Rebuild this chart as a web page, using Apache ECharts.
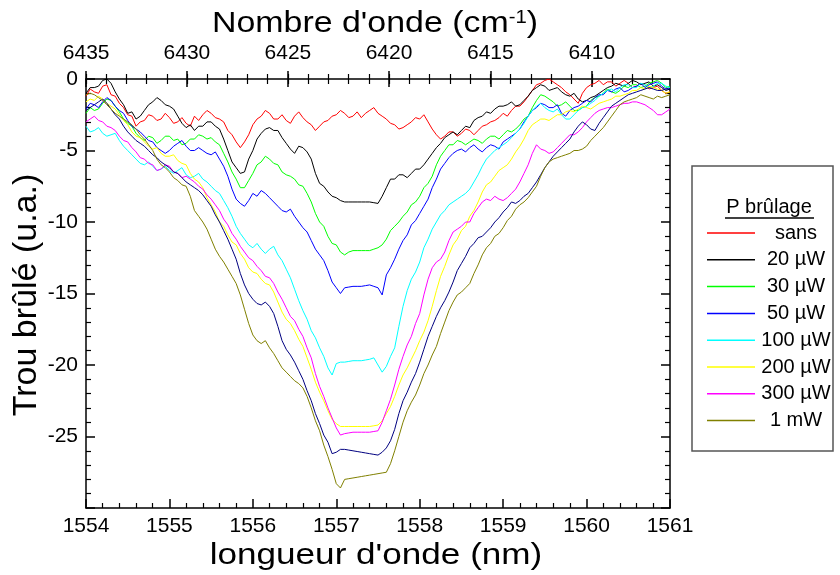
<!DOCTYPE html>
<html>
<head>
<meta charset="utf-8">
<script src="https://cdn.jsdelivr.net/npm/echarts@6/dist/echarts.min.js"></script>
<style>
html, body { margin: 0; padding: 0; background: #fff; }
#main { width: 840px; height: 575px; }
</style>
</head>
<body>
<div id="main"></div>
<script>
// longueur d'onde (nm), pas de 0.05 nm
var wavelength = [
  1554.00,1554.05,1554.10,1554.15,1554.20,1554.25,1554.30,1554.35,1554.40,1554.45,1554.50,1554.55,1554.60,1554.65,1554.70,1554.75,1554.80,1554.85,1554.90,1554.95,
  1555.00,1555.05,1555.10,1555.15,1555.20,1555.25,1555.30,1555.35,1555.40,1555.45,1555.50,1555.55,1555.60,1555.65,1555.70,1555.75,1555.80,1555.85,1555.90,1555.95,
  1556.00,1556.05,1556.10,1556.15,1556.20,1556.25,1556.30,1556.35,1556.40,1556.45,1556.50,1556.55,1556.60,1556.65,1556.70,1556.75,1556.80,1556.85,1556.90,1556.95,
  1557.00,1557.05,1557.10,1557.15,1557.20,1557.25,1557.30,1557.35,1557.40,1557.45,1557.50,1557.55,1557.60,1557.65,1557.70,1557.75,1557.80,1557.85,1557.90,1557.95,
  1558.00,1558.05,1558.10,1558.15,1558.20,1558.25,1558.30,1558.35,1558.40,1558.45,1558.50,1558.55,1558.60,1558.65,1558.70,1558.75,1558.80,1558.85,1558.90,1558.95,
  1559.00,1559.05,1559.10,1559.15,1559.20,1559.25,1559.30,1559.35,1559.40,1559.45,1559.50,1559.55,1559.60,1559.65,1559.70,1559.75,1559.80,1559.85,1559.90,1559.95,
  1560.00,1560.05,1560.10,1560.15,1560.20,1560.25,1560.30,1560.35,1560.40,1560.45,1560.50,1560.55,1560.60,1560.65,1560.70,1560.75,1560.80,1560.85,1560.90,1560.95,
  1561.00];

var sans = [
  -1.2,-0.7,-0.9,-1.0,-0.5,-0.4,-1.1,-1.2,-1.7,-2.0,-2.5,-2.6,-3.3,-3.0,-2.9,-2.5,-2.6,-2.9,-2.8,-2.4,
  -2.7,-3.1,-3.0,-2.7,-3.1,-3.3,-2.6,-2.9,-2.5,-2.2,-2.4,-2.7,-2.8,-3.0,-3.6,-3.9,-4.4,-4.8,-4.4,-3.9,
  -3.2,-2.8,-2.6,-2.2,-2.4,-2.8,-2.8,-2.5,-2.9,-3.1,-2.6,-2.3,-2.7,-3.0,-3.2,-3.6,-3.3,-3.0,-2.9,-2.6,
  -2.5,-2.2,-2.4,-2.7,-2.6,-2.3,-2.7,-2.4,-2.2,-2.0,-2.4,-2.6,-2.8,-3.1,-3.2,-3.5,-3.4,-3.2,-3.0,-2.7,
  -2.8,-2.5,-3.0,-3.5,-3.9,-4.2,-4.0,-3.7,-3.7,-4.0,-3.8,-3.5,-3.6,-3.9,-3.6,-3.3,-3.2,-3.0,-2.9,-2.7,
  -2.4,-2.6,-2.2,-1.9,-1.9,-1.6,-1.2,-0.8,-0.4,-0.3,-0.1,0.0,-0.2,-0.4,-0.6,-0.9,-1.1,-1.4,-1.7,-1.0,
  -0.6,-0.4,-0.3,-0.1,-0.4,-0.2,-0.2,-0.5,-0.3,-0.1,-0.3,-0.6,-0.5,-0.3,-0.4,-0.7,-0.6,-0.5,-0.8,-1.0,
  -0.9];
var p20uW = [
  -1.0,-0.6,-0.6,-0.5,-0.1,0.0,-0.3,-0.9,-1.4,-1.8,-2.4,-2.3,-2.8,-2.6,-2.2,-1.8,-1.6,-1.3,-1.5,-1.8,
  -1.9,-2.1,-2.6,-3.1,-3.4,-3.2,-3.6,-3.3,-3.3,-3.0,-3.0,-3.3,-3.5,-4.2,-5.0,-5.8,-6.2,-6.6,-6.5,-5.6,
  -5.0,-4.2,-3.8,-3.5,-3.4,-3.6,-3.6,-4.1,-4.5,-4.9,-5.2,-4.7,-4.8,-5.1,-5.6,-6.6,-7.3,-7.5,-7.9,-8.2,
  -8.3,-8.5,-8.6,-8.6,-8.6,-8.6,-8.6,-8.6,-8.6,-8.65,-8.7,-8.2,-7.6,-7.0,-7.0,-6.7,-6.7,-6.9,-6.6,-6.3,
  -6.3,-6.0,-5.6,-5.2,-4.8,-4.5,-4.1,-3.9,-3.7,-3.9,-3.6,-3.3,-3.4,-2.9,-2.7,-2.6,-2.3,-2.4,-2.1,-1.9,
  -1.9,-1.8,-1.6,-1.9,-1.8,-1.5,-1.2,-0.8,-0.6,-0.4,-0.5,-0.8,-0.7,-0.6,-0.9,-1.1,-1.2,-1.0,-1.4,-1.6,
  -1.5,-1.3,-1.2,-1.0,-0.8,-0.6,-0.5,-0.3,-0.4,-0.5,-0.3,-0.1,-0.2,-0.4,-0.3,-0.2,-0.5,-0.4,-0.6,-0.8,
  -0.7];
var p30uW = [
  -2.4,-2.0,-2.2,-2.1,-1.7,-1.4,-1.5,-1.9,-2.3,-2.8,-3.1,-3.3,-3.8,-4.1,-4.3,-4.0,-4.1,-4.5,-4.3,-4.0,
  -4.0,-4.3,-4.2,-4.6,-4.5,-4.2,-4.2,-3.9,-4.0,-4.2,-4.1,-4.4,-4.6,-5.2,-5.8,-6.5,-7.0,-7.6,-7.6,-7.1,
  -6.6,-6.0,-5.8,-5.4,-5.6,-5.9,-6.0,-6.5,-6.7,-6.8,-7.0,-7.4,-7.5,-8.0,-8.6,-9.4,-10.0,-10.3,-11.0,-11.5,
  -11.6,-12.1,-12.3,-12.1,-12.0,-12.0,-12.0,-12.0,-12.0,-11.9,-11.8,-11.6,-11.2,-10.6,-10.3,-10.0,-9.6,-9.3,-8.8,-8.6,
  -8.2,-7.6,-7.3,-6.8,-6.0,-5.4,-5.0,-4.6,-4.6,-4.3,-4.4,-4.6,-4.4,-4.2,-4.3,-4.5,-4.2,-4.0,-4.0,-4.2,
  -3.9,-3.6,-3.7,-3.5,-3.2,-2.8,-2.6,-2.0,-1.5,-1.1,-1.2,-1.4,-1.6,-1.9,-1.8,-1.6,-1.9,-2.2,-2.2,-2.0,
  -1.9,-1.5,-1.3,-1.2,-1.0,-0.7,-0.9,-1.0,-0.8,-0.5,-0.6,-0.4,-0.4,-0.6,-0.5,-0.3,-0.2,-0.1,-0.3,-0.6,
  -0.5];
var p50uW = [
  -2.1,-1.7,-1.8,-2.0,-1.6,-1.3,-1.5,-1.9,-2.2,-2.4,-2.9,-3.3,-3.5,-3.7,-4.0,-4.3,-4.4,-4.8,-5.0,-5.2,
  -5.0,-4.7,-4.5,-4.3,-4.7,-5.0,-5.0,-4.8,-5.0,-5.2,-5.3,-5.1,-5.6,-6.1,-6.8,-7.7,-8.4,-8.7,-8.9,-8.5,
  -8.0,-8.2,-7.8,-8.0,-8.3,-8.6,-8.9,-9.2,-9.3,-9.1,-9.6,-10.0,-10.4,-10.7,-11.3,-11.9,-12.3,-12.7,-13.4,-14.2,
  -14.6,-15.0,-14.6,-14.55,-14.5,-14.5,-14.5,-14.45,-14.4,-14.5,-14.6,-15.1,-13.7,-13.2,-12.6,-11.9,-11.3,-10.9,-10.2,-9.9,
  -9.4,-8.9,-8.4,-7.6,-7.0,-6.3,-5.9,-5.5,-5.2,-5.0,-4.9,-5.1,-4.8,-4.6,-4.9,-5.1,-4.8,-4.6,-4.7,-4.9,
  -4.4,-4.2,-4.0,-3.8,-3.5,-3.0,-2.6,-2.2,-2.0,-1.7,-1.8,-2.0,-2.0,-1.8,-2.4,-2.6,-2.2,-2.0,-1.9,-1.7,
  -1.5,-1.6,-1.3,-1.1,-1.1,-0.8,-0.9,-0.7,-0.6,-0.9,-0.8,-0.6,-0.5,-0.3,-0.6,-0.4,-0.3,-0.2,-0.5,-0.7,
  -0.6];
var p100uW = [
  -3.3,-3.7,-3.6,-3.4,-3.8,-4.0,-3.9,-3.8,-4.3,-4.7,-5.0,-5.3,-5.6,-5.9,-6.0,-5.8,-6.1,-6.4,-6.3,-6.1,
  -6.4,-6.6,-6.4,-6.2,-6.7,-6.9,-6.8,-6.6,-7.0,-7.2,-7.5,-7.8,-8.0,-8.5,-9.0,-9.6,-10.3,-10.8,-11.2,-11.6,
  -11.8,-11.5,-11.9,-12.2,-11.9,-11.7,-12.3,-12.7,-13.3,-13.9,-14.7,-15.5,-16.2,-16.8,-17.6,-18.1,-18.8,-19.4,-20.2,-20.7,
  -19.9,-19.8,-19.8,-19.75,-19.7,-19.7,-19.7,-19.65,-19.6,-19.5,-20.0,-20.5,-20.1,-19.4,-18.8,-17.3,-15.9,-14.8,-14.0,-13.5,
  -12.8,-11.8,-11.2,-10.5,-10.0,-9.5,-9.2,-8.8,-8.6,-8.4,-8.2,-8.0,-7.7,-7.2,-6.7,-6.1,-5.6,-5.3,-5.0,-4.8,
  -4.6,-4.4,-4.1,-3.8,-3.5,-3.1,-2.6,-2.2,-1.9,-1.7,-2.0,-2.2,-2.3,-2.1,-2.5,-2.8,-2.8,-2.5,-2.2,-2.0,
  -1.9,-1.7,-1.5,-1.2,-1.0,-0.8,-0.7,-0.9,-0.6,-0.4,-0.4,-0.6,-0.6,-0.3,-0.4,-0.6,-0.5,-0.3,-0.3,-0.5,
  -0.6];
var p200uW = [
  -1.6,-1.4,-1.5,-1.2,-1.4,-1.7,-1.9,-2.1,-2.5,-2.9,-3.2,-3.7,-4.0,-4.1,-4.4,-4.7,-4.9,-4.8,-5.2,-5.4,
  -5.4,-5.3,-5.7,-5.9,-6.0,-6.6,-7.0,-7.2,-7.6,-8.3,-8.8,-9.3,-10.0,-10.3,-10.9,-11.4,-11.6,-12.2,-12.6,-13.2,
  -13.5,-13.6,-14.0,-14.3,-14.4,-14.9,-15.6,-16.3,-16.8,-17.1,-17.6,-18.2,-18.7,-19.5,-20.3,-21.2,-21.9,-22.5,-23.2,-23.8,
  -24.1,-24.3,-24.3,-24.3,-24.3,-24.3,-24.3,-24.3,-24.3,-24.25,-24.2,-23.9,-23.4,-22.9,-22.2,-21.4,-20.7,-20.2,-19.6,-19.0,
  -18.3,-17.7,-16.9,-15.9,-14.8,-13.8,-13.1,-12.3,-11.6,-11.2,-10.6,-10.3,-9.6,-9.2,-8.6,-7.9,-7.4,-7.2,-6.8,-6.4,
  -6.2,-6.0,-5.6,-5.1,-4.7,-4.2,-3.6,-3.2,-3.0,-2.8,-2.8,-2.9,-2.7,-2.5,-2.5,-2.3,-2.2,-2.3,-2.1,-1.9,
  -2.0,-2.1,-1.9,-1.7,-1.6,-1.5,-1.4,-1.2,-1.2,-1.1,-1.0,-0.8,-0.8,-0.6,-0.7,-0.5,-0.6,-0.7,-0.8,-1.0,
  -0.9];
var p300uW = [
  -3.0,-2.8,-2.6,-2.9,-3.0,-3.3,-3.4,-3.6,-4.0,-4.3,-4.4,-4.8,-5.1,-5.5,-5.6,-5.9,-6.0,-6.4,-6.3,-6.0,
  -6.1,-6.5,-6.6,-6.9,-6.8,-7.0,-7.2,-7.5,-7.7,-8.1,-8.4,-8.8,-9.2,-9.8,-10.2,-10.8,-11.2,-11.7,-12.1,-12.5,
  -12.7,-13.1,-13.4,-13.8,-13.9,-14.3,-14.9,-15.4,-16.0,-16.6,-16.9,-17.5,-18.0,-18.8,-19.5,-20.6,-21.5,-22.2,-23.0,-23.7,
  -24.4,-24.9,-24.8,-24.75,-24.7,-24.7,-24.7,-24.7,-24.7,-24.65,-24.6,-24.0,-23.2,-22.4,-21.4,-20.3,-19.4,-18.6,-18.0,-17.1,
  -16.4,-15.1,-14.0,-13.2,-12.8,-12.6,-12.1,-11.3,-10.7,-10.5,-10.3,-10.0,-10.0,-9.4,-9.0,-8.6,-8.4,-8.5,-8.2,-8.4,
  -8.5,-8.3,-8.0,-7.7,-7.2,-6.6,-6.0,-5.2,-4.6,-4.9,-5.0,-5.2,-5.1,-4.8,-4.5,-4.2,-3.9,-3.9,-3.7,-3.4,
  -3.0,-2.7,-2.4,-2.2,-2.1,-2.0,-2.0,-1.9,-1.8,-1.7,-1.7,-1.6,-1.6,-1.7,-1.8,-2.0,-2.2,-2.5,-2.5,-2.3,
  -2.1];
var navyCurve = [
  -2.2,-2.0,-1.8,-1.6,-1.4,-1.7,-2.1,-2.5,-2.8,-3.3,-3.7,-4.0,-4.3,-4.5,-4.7,-5.0,-5.3,-5.5,-5.8,-6.0,
  -6.2,-6.5,-6.6,-6.9,-7.2,-7.4,-7.6,-7.8,-8.1,-8.5,-8.9,-9.5,-10.0,-10.6,-11.2,-11.9,-12.6,-13.6,-14.4,-15.0,
  -15.4,-15.7,-15.8,-15.6,-15.9,-16.4,-17.3,-18.3,-18.9,-19.3,-19.8,-20.4,-21.0,-21.8,-22.5,-23.4,-24.1,-24.9,-25.4,-26.2,
  -26.1,-25.9,-25.9,-25.95,-26.0,-26.05,-26.1,-26.15,-26.2,-26.25,-26.3,-26.1,-25.8,-25.3,-24.5,-23.4,-22.5,-21.9,-21.2,-20.6,
  -19.8,-18.9,-18.0,-17.3,-16.6,-16.0,-15.5,-14.9,-14.2,-13.4,-12.9,-12.4,-11.8,-11.5,-11.1,-11.0,-10.7,-10.4,-10.0,-9.7,
  -9.3,-9.0,-8.6,-8.7,-8.5,-8.2,-8.0,-7.6,-7.2,-6.7,-6.2,-5.8,-5.4,-5.1,-4.8,-4.5,-4.2,-3.7,-3.3,-3.0,
  -3.2,-3.5,-3.6,-3.1,-2.7,-2.3,-1.9,-1.7,-1.5,-1.3,-1.1,-1.0,-0.9,-0.8,-0.7,-0.6,-0.7,-0.8,-0.8,-0.7,
  -0.7];
var p1mW = [
  -1.1,-1.0,-1.1,-1.3,-1.5,-1.8,-2.1,-2.4,-2.6,-2.8,-3.0,-3.2,-3.5,-3.9,-4.2,-4.6,-5.0,-5.6,-6.0,-6.2,
  -6.5,-6.9,-7.1,-7.4,-7.5,-8.2,-9.2,-9.6,-10.0,-10.5,-11.2,-11.9,-12.4,-12.8,-13.3,-13.8,-14.3,-15.1,-16.1,-17.1,
  -17.9,-18.3,-18.5,-18.3,-18.8,-19.2,-19.7,-20.2,-20.5,-20.8,-21.1,-21.3,-21.6,-22.2,-23.0,-23.9,-24.6,-25.6,-26.4,-27.3,
  -28.3,-28.6,-28.0,-27.95,-27.9,-27.85,-27.8,-27.75,-27.7,-27.65,-27.6,-27.55,-27.5,-26.9,-26.0,-25.0,-24.0,-23.2,-22.6,-22.1,
  -21.4,-20.6,-20.0,-19.3,-18.7,-17.8,-17.0,-16.2,-15.6,-15.1,-14.9,-14.6,-14.3,-13.6,-13.0,-12.3,-11.8,-11.5,-11.0,-10.8,
  -10.4,-9.9,-9.6,-9.1,-8.8,-8.6,-8.3,-7.9,-7.5,-6.8,-6.2,-5.8,-5.6,-5.5,-5.4,-5.3,-5.2,-5.0,-5.0,-4.9,
  -4.7,-4.3,-4.0,-3.7,-3.4,-3.0,-2.6,-2.2,-1.8,-1.6,-1.5,-1.4,-1.3,-1.1,-1.2,-1.3,-1.4,-1.2,-1.3,-1.2,
  -1.1];

var seriesNames = ['sans', '20 µW', '30 µW', '50 µW', '100 µW', '200 µW', '300 µW', 'courbe non légendée', '1 mW'];
var seriesValues = [sans, p20uW, p30uW, p50uW, p100uW, p200uW, p300uW, navyCurve, p1mW];
var seriesColors = ['#ff0000', '#000000', '#00ff00', '#0000ff', '#00ffff', '#ffff00', '#ff00ff', '#000080', '#808000'];
var legendNames = ['sans', '20 µW', '30 µW', '50 µW', '100 µW', '200 µW', '300 µW', '1 mW'];

// axe du haut : nombre d'onde (cm-1)
var waveNumberMajor = [6435, 6430, 6425, 6420, 6415, 6410];
var waveNumberMinor = [6435,6434,6433,6432,6431,6430,6429,6428,6427,6426,6425,6424,6423,6422,6421,
  6420,6419,6418,6417,6416,6415,6414,6413,6412,6411,6410,6409,6408,6407];

var FONT = "'Liberation Sans', Arial, sans-serif";

function toNm(k) { return 1e7 / k; }

var myChart = echarts.init(document.getElementById('main'));

var series = [];
for (var s = 0; s < seriesValues.length; s++) {
    var pts = [];
    for (var i = 0; i < wavelength.length; i++) {
        pts.push([wavelength[i], seriesValues[s][i]]);
    }
    series.push({
        name: seriesNames[s],
        type: 'line',
        data: pts,
        symbol: 'none',
        showSymbol: false,
        lineStyle: { color: seriesColors[s], width: 1 },
        itemStyle: { color: seriesColors[s] },
        emphasis: { disabled: true }
    });
}

var baseX = {
    type: 'value', min: 1554, max: 1561, gridIndex: 0,
    splitLine: { show: false }
};

var option = {
    animation: false,
    backgroundColor: '#ffffff',
    grid: { left: 86, right: 170, top: 79, bottom: 67 },
    xAxis: [
        Object.assign({}, baseX, {
            position: 'bottom',
            interval: 1,
            axisLine: { onZero: false, lineStyle: { color: '#000', width: 1.5 } },
            axisTick: { inside: true, length: 9, lineStyle: { color: '#000', width: 1.5 } },
            minorTick: { show: true, splitNumber: 5, length: 5, lineStyle: { color: '#000', width: 1.2 } },
            axisLabel: { color: '#000', fontSize: 21, fontFamily: FONT, margin: 8,
                         formatter: function (v) { return String(v); } }
        }),
        Object.assign({}, baseX, {
            position: 'top',
            axisLine: { onZero: false, lineStyle: { color: '#000', width: 1.5 } },
            axisTick: { show: false },
            axisLabel: {
                color: '#000', fontSize: 21, fontFamily: FONT, margin: 15,
                customValues: waveNumberMajor.map(toNm),
                formatter: function (v) { return String(Math.round(1e7 / v)); }
            }
        }),
        Object.assign({}, baseX, {
            position: 'top', offset: -8,
            axisLine: { show: false, onZero: false },
            axisTick: { inside: false, length: 16, customValues: waveNumberMajor.map(toNm),
                        lineStyle: { color: '#000', width: 1.5 } },
            axisLabel: { show: false }
        }),
        Object.assign({}, baseX, {
            position: 'top', offset: -5,
            axisLine: { show: false, onZero: false },
            axisTick: { inside: false, length: 10, customValues: waveNumberMinor.map(toNm),
                        lineStyle: { color: '#000', width: 1.2 } },
            axisLabel: { show: false }
        })
    ],
    yAxis: [
        {
            type: 'value', min: -30, max: 0, interval: 5, position: 'left',
            splitLine: { show: false },
            axisLine: { onZero: false, lineStyle: { color: '#000', width: 1.5 } },
            axisTick: { inside: true, length: 9, lineStyle: { color: '#000', width: 1.5 } },
            minorTick: { show: true, splitNumber: 5, length: 5, lineStyle: { color: '#000', width: 1.2 } },
            axisLabel: {
                color: '#000', fontSize: 21, fontFamily: FONT, margin: 8,
                formatter: function (v) { return v === -30 ? '' : String(v); }
            }
        },
        {
            type: 'value', min: -30, max: 0, interval: 5, position: 'right',
            splitLine: { show: false },
            axisLine: { onZero: false, lineStyle: { color: '#000', width: 1.5 } },
            axisTick: { inside: true, length: 9, lineStyle: { color: '#000', width: 1.5 } },
            minorTick: { show: true, splitNumber: 5, length: 5, lineStyle: { color: '#000', width: 1.2 } },
            axisLabel: { show: false }
        }
    ],
    legend: {
        data: legendNames,
        orient: 'vertical',
        left: 707, top: 223, padding: 0,
        icon: 'rect',
        itemWidth: 48, itemHeight: 1.5, itemGap: 6.8,
        selectedMode: false,
        formatter: '{t|{name}}',
        textStyle: {
            color: '#000', fontFamily: FONT,
            rich: { t: { width: 72, align: 'center', fontSize: 20, lineHeight: 19, fontFamily: FONT, color: '#000' } }
        }
    },
    graphic: [
        { type: 'rect', shape: { x: 692, y: 166, width: 141, height: 285 },
          style: { fill: 'none', stroke: '#555', lineWidth: 1.5 } },
        { type: 'text', x: 769, y: 207,
          style: { text: 'P brûlage', x: 0, y: 0, align: 'center', verticalAlign: 'middle',
                   font: '20px ' + FONT, fill: '#000' } },
        { type: 'line', shape: { x1: 725, y1: 218, x2: 814, y2: 218 },
          style: { stroke: '#000', lineWidth: 1.5 } },
        { type: 'text', x: 375, y: 24, scaleX: 1.13,
          style: { text: "{a|Nombre d'onde (cm}{s|-1}{a|)}", x: 0, y: 0, align: 'center', verticalAlign: 'middle',
                   rich: { a: { fontSize: 30, fontFamily: FONT, fill: '#000', color: '#000' },
                           s: { fontSize: 18, fontFamily: FONT, fill: '#000', color: '#000', verticalAlign: 'top' } } } },
        { type: 'text', x: 376, y: 556, scaleX: 1.17,
          style: { text: "longueur d'onde (nm)", x: 0, y: 0, align: 'center', verticalAlign: 'middle',
                   font: '30px ' + FONT, fill: '#000' } },
        { type: 'text', x: 27, y: 295, rotation: Math.PI / 2,
          style: { text: 'Trou brûlé (u.a.)', x: 0, y: 0, align: 'center', verticalAlign: 'middle',
                   font: '34px ' + FONT, fill: '#000' } }
    ],
    series: series
};

myChart.setOption(option);
window.addEventListener('resize', function () {
    myChart.resize();
});
</script>
</body>
</html>
